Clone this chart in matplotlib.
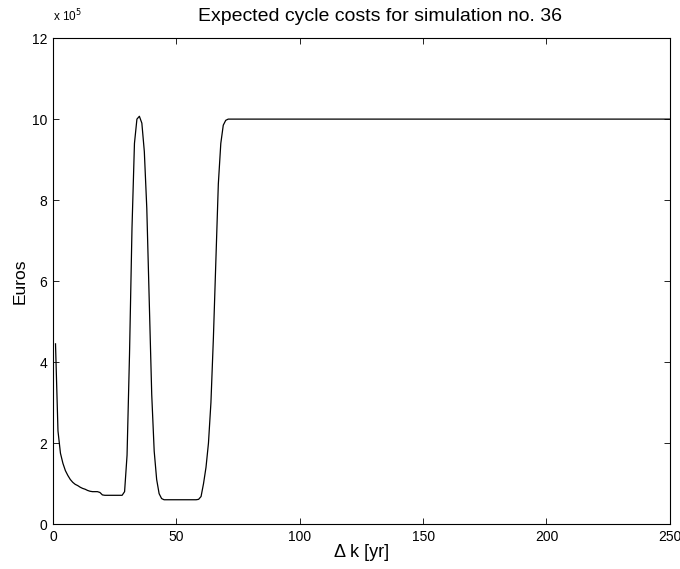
import numpy as np
import matplotlib
matplotlib.use("Agg")
import matplotlib.pyplot as plt
from matplotlib.ticker import FuncFormatter

plt.rcParams["font.family"] = ["Liberation Sans", "DejaVu Sans"]

# ── Data (cost in units of 1e5 Euros) ──────────────────────────────────────
delta_k = [1, 2, 3, 4, 5, 6, 7, 8, 9, 10, 11, 12, 13, 14, 15, 16, 17, 18, 19,
           20, 21, 24, 28, 29, 30, 31, 32, 33, 34, 35, 36, 37, 38, 39, 40, 41,
           42, 43, 44, 45, 50, 58, 59, 60, 61, 62, 63, 64, 65, 66, 67, 68, 69,
           70, 71, 72, 250]
cost = [4.45, 2.3, 1.75, 1.5, 1.32, 1.2, 1.1, 1.03, 0.98, 0.95, 0.91, 0.88,
        0.86, 0.83, 0.81, 0.80, 0.80, 0.80, 0.78, 0.72, 0.71, 0.71, 0.71, 0.80,
        1.7, 4.2, 7.3, 9.4, 10.0, 10.07, 9.9, 9.2, 7.8, 5.5, 3.2, 1.8, 1.1,
        0.75, 0.63, 0.60, 0.60, 0.60, 0.61, 0.68, 1.0, 1.4, 2.0, 3.0, 4.6,
        6.5, 8.4, 9.4, 9.85, 9.97, 10.0, 10.0, 10.0]
scale = 1e5

x_ticks = [0, 50, 100, 150, 200, 250]
y_ticks = [0, 2, 4, 6, 8, 10, 12]

# ── Plot ───────────────────────────────────────────────────────────────────
fig = plt.figure(figsize=(6.8, 5.69), dpi=100)
ax = fig.add_axes([0.078, 0.079, 0.907, 0.854])

ax.plot(delta_k, np.array(cost) * scale, color="black", linewidth=0.9)

ax.set_xlim(0, 250)
ax.set_ylim(0, 12 * scale)
ax.set_xticks(x_ticks)
ax.set_yticks(np.array(y_ticks) * scale)
ax.yaxis.set_major_formatter(FuncFormatter(lambda v, p: f"{v / scale:g}"))

ax.tick_params(direction="in", top=True, right=True, labelsize=10,
               length=4, width=0.6, pad=4)
for s in ax.spines.values():
    s.set_linewidth(0.8)

ax.text(0.0, 1.028, "x 10$^5$", transform=ax.transAxes, fontsize=8.5,
        ha="left", va="bottom")

ax.set_title("Expected cycle costs for simulation no. 36", fontsize=14,
             pad=12, x=0.53)
ax.set_xlabel("Δ k [yr]", fontsize=13, labelpad=0)
ax.set_ylabel("Euros", fontsize=12.5, labelpad=3)

fig.savefig("out.png", dpi=100)
plt.close(fig)
